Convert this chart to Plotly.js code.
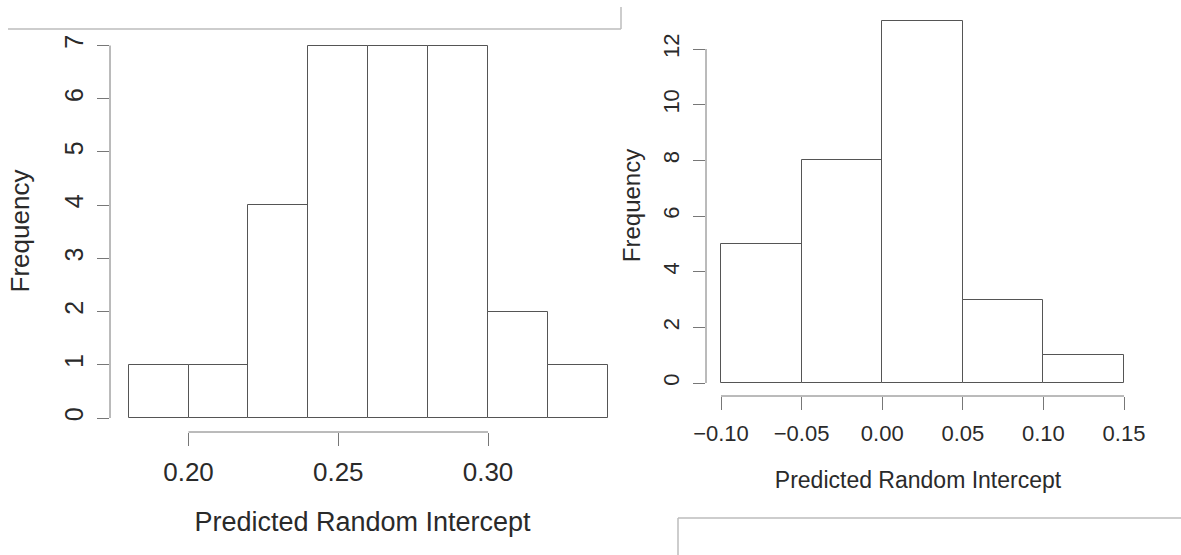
<!DOCTYPE html>
<html>
<head>
<meta charset="utf-8">
<script src="https://cdn.plot.ly/plotly-3.0.1.min.js"></script>
<style>
html,body{margin:0;padding:0;background:#fff;}
#chart{width:1181px;height:555px;}
</style>
</head>
<body>
<div id="chart"></div>
<script>
// ---- data ----
const leftBreaks = [0.18, 0.20, 0.22, 0.24, 0.26, 0.28, 0.30, 0.32, 0.34];
const leftCounts = [1, 1, 4, 7, 7, 7, 2, 1];
const leftXTicks = [0.20, 0.25, 0.30];
const leftXTickText = ['0.20', '0.25', '0.30'];
const leftYTicks = [0, 1, 2, 3, 4, 5, 6, 7];

const rightBreaks = [-0.10, -0.05, 0.00, 0.05, 0.10, 0.15];
const rightCounts = [5, 8, 13, 3, 1];
const rightXTicks = [-0.10, -0.05, 0.00, 0.05, 0.10, 0.15];
const rightXTickText = ['\u22120.10', '\u22120.05', '0.00', '0.05', '0.10', '0.15'];
const rightYTicks = [0, 2, 4, 6, 8, 10, 12];

const xTitle = 'Predicted Random Intercept';
const yTitle = 'Frequency';

// ---- layout geometry (pixels) ----
const W = 1181, H = 555;
const FONT = '"Liberation Sans", Arial, Helvetica, sans-serif';
const TXT = '#2a2a2a';
const AX = '#777777';
const BAR = '#555555';

function mids(b){ return b.slice(0,-1).map((v,i)=>(v+b[i+1])/2); }
function widths(b){ return b.slice(0,-1).map((v,i)=>b[i+1]-v); }
function xRange(p0,p1,v,q,s){ return [v+(p0-q)/s, v+(p1-q)/s]; }
function yRange(pTop,pBot,v,q,s){ return [v-(pBot-q)/s, v+(q-pTop)/s]; }

// left panel
const L = {x0:110, x1:615, yTop:30, yBot:432};
const Lxs = (488-188.5)/0.10;
const Lys = (418-45.5)/7;
const LxR = xRange(L.x0, L.x1, 0.20, 188.5, Lxs);
const LyR = yRange(L.yTop, L.yBot, 0, 418, Lys);

// right panel
const R = {x0:706, x1:1130, yTop:15, yBot:396};
const Rxs = (1124-721)/0.25;
const Rys = (383-49)/12;
const RxR = xRange(R.x0, R.x1, -0.10, 721, Rxs);
const RyR = yRange(R.yTop, R.yBot, 0, 383, Rys);

const traces = [
  {type:'bar', x:mids(leftBreaks), y:leftCounts, width:widths(leftBreaks),
   xaxis:'x', yaxis:'y', marker:{color:'#ffffff', line:{color:BAR, width:1}},
   hoverinfo:'x+y', showlegend:false},
  {type:'bar', x:mids(rightBreaks), y:rightCounts, width:widths(rightBreaks),
   xaxis:'x2', yaxis:'y2', marker:{color:'#ffffff', line:{color:BAR, width:1}},
   hoverinfo:'x+y', showlegend:false}
];

function px2fx(p){ return p/W; }
function px2fy(p){ return 1-p/H; }

function xAxis(dom, range, ticks, text, fs, tfs, lstand, standoff, anchor){
  return {domain:[px2fx(dom.x0), px2fx(dom.x1)], range:range, anchor:anchor,
    tickmode:'array', tickvals:ticks, ticktext:text, ticks:'outside', ticklen:13,
    tickwidth:1, tickcolor:AX, showline:false, zeroline:false, showgrid:false,
    ticklabelstandoff:lstand,
    tickfont:{family:FONT, size:fs, color:TXT},
    title:{text:xTitle, font:{family:FONT, size:tfs, color:TXT}, standoff:standoff},
    fixedrange:true};
}
function yAxis(dom, range, ticks, fs, tfs, lstand, standoff, anchor){
  return {domain:[px2fy(dom.yBot), px2fy(dom.yTop)], range:range, anchor:anchor,
    tickmode:'array', tickvals:ticks, ticks:'outside', ticklen:12, tickangle:-90,
    tickwidth:1, tickcolor:AX, showline:false, zeroline:false, showgrid:false,
    ticklabelstandoff:lstand,
    tickfont:{family:FONT, size:fs, color:TXT},
    title:{text:yTitle, font:{family:FONT, size:tfs, color:TXT}, standoff:standoff},
    fixedrange:true};
}

const shapes = [
  {type:'line', xref:'x', yref:'paper', x0:leftXTicks[0], x1:leftXTicks[leftXTicks.length-1],
   y0:px2fy(L.yBot), y1:px2fy(L.yBot), line:{color:AX, width:1}},
  {type:'line', xref:'paper', yref:'y', x0:px2fx(L.x0), x1:px2fx(L.x0),
   y0:leftYTicks[0], y1:leftYTicks[leftYTicks.length-1], line:{color:AX, width:1}},
  {type:'line', xref:'x2', yref:'paper', x0:rightXTicks[0], x1:rightXTicks[rightXTicks.length-1],
   y0:px2fy(R.yBot), y1:px2fy(R.yBot), line:{color:AX, width:1}},
  {type:'line', xref:'paper', yref:'y2', x0:px2fx(R.x0), x1:px2fx(R.x0),
   y0:rightYTicks[0], y1:rightYTicks[rightYTicks.length-1], line:{color:AX, width:1}},
  {type:'line', xref:'paper', yref:'paper', x0:px2fx(8), x1:px2fx(621), y0:px2fy(29), y1:px2fy(29),
   line:{color:'#bdbdbd', width:1.5}},
  {type:'line', xref:'paper', yref:'paper', x0:px2fx(621), x1:px2fx(621), y0:px2fy(7), y1:px2fy(29),
   line:{color:'#bdbdbd', width:1.5}},
  {type:'line', xref:'paper', yref:'paper', x0:px2fx(678), x1:1, y0:px2fy(518), y1:px2fy(518),
   line:{color:'#bdbdbd', width:1.5}},
  {type:'line', xref:'paper', yref:'paper', x0:px2fx(678), x1:px2fx(678), y0:px2fy(518), y1:0,
   line:{color:'#bdbdbd', width:1.5}}
];

const layout = {
  width:W, height:H, margin:{l:0, r:0, t:0, b:0, pad:0},
  paper_bgcolor:'#ffffff', plot_bgcolor:'rgba(0,0,0,0)',
  showlegend:false, bargap:0,
  xaxis: xAxis(L, LxR, leftXTicks, leftXTickText, 26, 27, 4, 25, 'y'),
  yaxis: yAxis(L, LyR, leftYTicks, 25, 26, 4, 22, 'x'),
  xaxis2: xAxis(R, RxR, rightXTicks, rightXTickText, 22, 23, 5, 26, 'y2'),
  yaxis2: yAxis(R, RyR, rightYTicks, 22, 24, 5, 11, 'x2'),
  shapes: shapes
};

Plotly.newPlot('chart', traces, layout, {displayModeBar:false, staticPlot:false});
</script>
</body>
</html>
